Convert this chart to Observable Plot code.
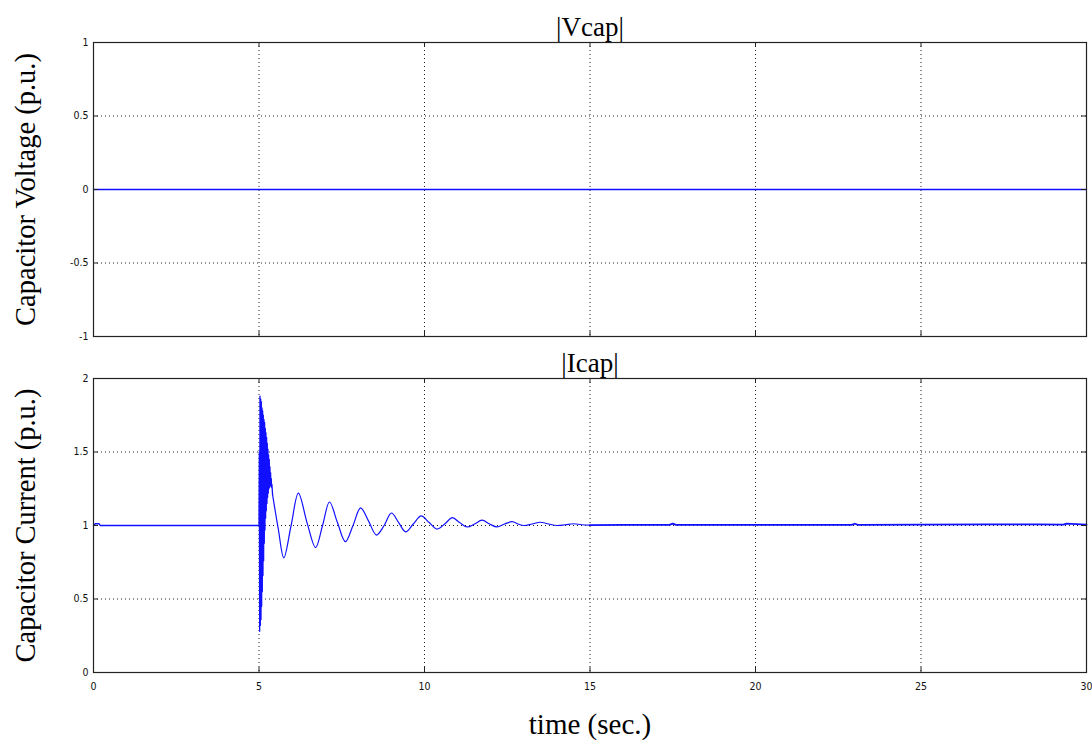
<!DOCTYPE html>
<html>
<head>
<meta charset="utf-8">
<script src="https://cdn.jsdelivr.net/npm/d3@7"></script>
<script src="https://cdn.jsdelivr.net/npm/@observablehq/plot@0.6"></script>
<style>
  html, body { margin: 0; padding: 0; background: #fff; }
  #chart svg { display: block; overflow: visible; }
</style>
</head>
<body>
<div id="chart"></div>
<script>
// ---- data ----
const xTicks = [0, 5, 10, 15, 20, 25, 30];
const vTicks = [-1, -0.5, 0, 0.5, 1];
const iTicks = [0, 0.5, 1, 1.5, 2];

const vcapTime  = [0, 30];
const vcapValue = [0, 0];

// Icap before the event
const preTime  = [0, 0.05, 0.17, 0.2, 5.0];
const preValue = [1.0, 1.012, 1.012, 1.0, 1.0];

// high-frequency burst right after t = 5 s
const burstTime  = [5.00, 5.01, 5.02, 5.03, 5.04, 5.05, 5.06, 5.07, 5.08, 5.09,
                    5.10, 5.11, 5.12, 5.13, 5.14, 5.15, 5.16, 5.17, 5.18, 5.19,
                    5.20, 5.21, 5.22, 5.23, 5.24, 5.25, 5.26, 5.27, 5.28, 5.29,
                    5.30, 5.31, 5.32, 5.33, 5.34, 5.35, 5.36, 5.37, 5.38, 5.39, 5.41];
const burstValue = [1.00, 1.50, 0.28, 1.88, 0.32, 1.86, 0.36, 1.84, 0.45, 1.80,
                    0.55, 1.78, 0.66, 1.75, 0.76, 1.72, 0.88, 1.70, 0.97, 1.66,
                    1.05, 1.63, 1.10, 1.60, 1.15, 1.56, 1.19, 1.52, 1.22, 1.48,
                    1.25, 1.45, 1.26, 1.40, 1.27, 1.36, 1.27, 1.32, 1.26, 1.28, 1.21];

// slow decaying oscillation
const decayTime  = [5.41, 5.58, 5.75, 5.97, 6.19, 6.45, 6.71, 6.92, 7.13, 7.37,
                    7.61, 7.84, 8.07, 8.31, 8.55, 8.78, 9.00, 9.22, 9.43, 9.66,
                    9.90, 10.14, 10.38, 10.61, 10.84, 11.06, 11.29, 11.51, 11.74, 11.97,
                    12.19, 12.42, 12.65, 12.83, 13.00, 13.25, 13.50, 13.75, 14.00, 14.25,
                    14.50, 14.75, 15.00];
const decayValue = [1.21, 0.98, 0.78, 1.00, 1.22, 1.02, 0.85, 1.00, 1.16, 1.02,
                    0.89, 1.00, 1.12, 1.03, 0.935, 1.00, 1.085, 1.02, 0.957, 1.01,
                    1.065, 1.02, 0.976, 1.01, 1.053, 1.02, 0.99, 1.01, 1.036, 1.01,
                    0.99, 1.01, 1.026, 1.01, 1.00, 1.01, 1.022, 1.01, 1.00, 1.005,
                    1.012, 1.005, 1.003];

// near-steady tail
const tailTime  = [15.0, 16.0, 17.4, 17.5, 17.6, 20.0, 22.9, 23.0, 23.1, 25.0, 27.0, 28.5, 29.3, 29.4, 30.0];
const tailValue = [1.003, 1.004, 1.004, 1.013, 1.004, 1.004, 1.004, 1.012, 1.004, 1.006, 1.007, 1.008, 1.006, 1.013, 1.006];

// ---- helpers ----
const zip = (t, v) => t.map((d, i) => ({t: d, v: v[i]}));
const BLUE = "#1010ff";
const GRID = {stroke: "#222", strokeDasharray: "1,3", strokeWidth: 1};
const TICK_FONT = "'Liberation Sans Narrow', 'DejaVu Sans Condensed', 'Liberation Sans', sans-serif";
const SERIF = "'Liberation Serif', 'Times New Roman', serif";

function panel({yDomain, yTicks, title, ylabel, lines, marginTop, marginBottom, showX, xlabel}) {
  const frameH = 294;
  const height = marginTop + frameH + marginBottom;
  const innerX = xTicks.slice(1, -1);
  const innerY = yTicks.slice(1, -1);
  const tick = 5;
  return Plot.plot({
    width: 1092,
    height,
    marginLeft: 93,
    marginRight: 6,
    marginTop,
    marginBottom,
    style: {fontFamily: TICK_FONT, fontSize: "10.5px", color: "#111", background: "#fff", overflow: "visible"},
    x: {domain: [0, 30], ticks: showX ? xTicks : [], tickSize: 0, tickPadding: 10,
        tickFormat: d => String(d), label: null, axis: showX ? "bottom" : null},
    y: {domain: yDomain, ticks: yTicks, tickSize: 0, tickPadding: 5,
        tickFormat: d => String(d), label: null},
    marks: [
      Plot.ruleX(innerX, GRID),
      Plot.ruleY(innerY, GRID),
      ...lines,
      // inward ticks on all four sides
      Plot.ruleX(innerX, {stroke: "#222", insetBottom: frameH - tick}),
      Plot.ruleX(innerX, {stroke: "#222", insetTop: frameH - tick}),
      Plot.ruleY(innerY, {stroke: "#222", insetRight: 993 - tick}),
      Plot.ruleY(innerY, {stroke: "#222", insetLeft: 993 - tick}),
      Plot.frame({stroke: "#222", strokeWidth: 1.2}),
      Plot.text([title], {frameAnchor: "top", dy: -15, text: d => d,
        textAnchor: "middle", lineAnchor: "middle",
        fontFamily: SERIF, fontSize: 27, fill: "#000"}),
      Plot.text([ylabel], {frameAnchor: "left", rotate: -90, dx: -68, text: d => d,
        textAnchor: "middle", lineAnchor: "middle",
        fontFamily: SERIF, fontSize: 28.5, fill: "#000"}),
      ...(xlabel ? [Plot.text([xlabel], {frameAnchor: "bottom", dy: 52, text: d => d,
        textAnchor: "middle", lineAnchor: "middle",
        fontFamily: SERIF, fontSize: 29, fill: "#000"})] : [])
    ]
  });
}

const topPanel = panel({
  yDomain: [-1, 1], yTicks: vTicks, title: "|Vcap|",
  ylabel: "Capacitor Voltage (p.u.)", marginTop: 42, marginBottom: 4, showX: false,
  lines: [Plot.line(zip(vcapTime, vcapValue), {x: "t", y: "v", stroke: BLUE, strokeWidth: 1.4})]
});

const bottomPanel = panel({
  yDomain: [0, 2], yTicks: iTicks, title: "|Icap|",
  ylabel: "Capacitor Current (p.u.)", marginTop: 38, marginBottom: 68, showX: true,
  xlabel: "time (sec.)",
  lines: [
    Plot.line(zip(preTime, preValue), {x: "t", y: "v", stroke: BLUE, strokeWidth: 1.4}),
    Plot.line(zip(burstTime, burstValue), {x: "t", y: "v", stroke: BLUE, strokeWidth: 1.3}),
    Plot.line(zip(decayTime, decayValue), {x: "t", y: "v", stroke: BLUE, strokeWidth: 1.2, curve: "catmull-rom"}),
    Plot.line(zip(tailTime, tailValue), {x: "t", y: "v", stroke: BLUE, strokeWidth: 1.8})
  ]
});

const chart = document.getElementById("chart");
chart.appendChild(topPanel);
chart.appendChild(bottomPanel);
</script>
</body>
</html>
